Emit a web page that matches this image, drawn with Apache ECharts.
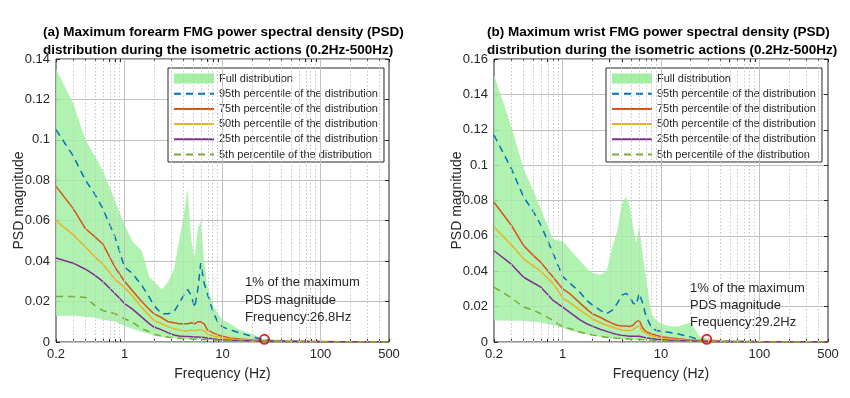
<!DOCTYPE html>
<html>
<head>
<meta charset="utf-8">
<script src="https://cdn.jsdelivr.net/npm/echarts@6/dist/echarts.min.js"></script>
<style>
html, body { margin: 0; padding: 0; background: #fff; }
#chart { width: 850px; height: 398px; }
</style>
</head>
<body>
<div id="chart"></div>
<script>
// frequency samples (Hz), shared by both panels
var freq = [0.2, 0.3, 0.4, 0.5, 0.6, 0.8, 1, 1.2, 1.5, 1.8, 2, 2.4, 2.8, 3.2, 3.6, 4, 4.4, 4.8, 5.2, 5.6, 6, 6.5, 7, 8, 9, 10, 12, 15, 20, 25, 30, 40, 60, 100, 200, 500];

// (a) forearm
var maxA = [0.135, 0.118, 0.100, 0.092, 0.085, 0.070, 0.058, 0.050, 0.045, 0.032, 0.030, 0.026, 0.030, 0.036, 0.050, 0.062, 0.076, 0.050, 0.042, 0.056, 0.060, 0.040, 0.028, 0.018, 0.014, 0.011, 0.009, 0.006, 0.004, 0.0018, 0.0014, 0.001, 0.0006, 0.0004, 0.0002, 0.0002];
var minA = [0.013, 0.013, 0.0125, 0.012, 0.011, 0.010, 0.008, 0.0065, 0.005, 0.004, 0.003, 0.0025, 0.002, 0.0018, 0.0016, 0.0015, 0.0014, 0.0013, 0.0012, 0.0012, 0.0011, 0.001, 0.001, 0.0009, 0.0008, 0.0007, 0.0005, 0.0004, 0.0003, 0.0002, 0.0001, 0.0001, 0.0001, 0.0001, 0, 0];
var p95A = [0.105, 0.092, 0.080, 0.073, 0.066, 0.052, 0.037, 0.034, 0.028, 0.022, 0.018, 0.014, 0.014, 0.015, 0.019, 0.023, 0.026, 0.023, 0.017, 0.026, 0.039, 0.029, 0.024, 0.015, 0.0095, 0.0075, 0.006, 0.0045, 0.0028, 0.0012, 0.0008, 0.0005, 0.0003, 0.0002, 0.0001, 0.0001];
var p75A = [0.077, 0.066, 0.056, 0.052, 0.0485, 0.037, 0.030, 0.0255, 0.020, 0.016, 0.014, 0.012, 0.010, 0.0095, 0.009, 0.009, 0.009, 0.0095, 0.009, 0.010, 0.010, 0.009, 0.006, 0.0045, 0.0035, 0.0028, 0.002, 0.0015, 0.001, 0.0007, 0.0005, 0.0004, 0.0003, 0.0002, 0.0001, 0.0001];
var p50A = [0.060, 0.053, 0.047, 0.042, 0.0386, 0.031, 0.027, 0.023, 0.017, 0.013, 0.0107, 0.009, 0.0075, 0.0066, 0.006, 0.0055, 0.0055, 0.006, 0.0055, 0.006, 0.006, 0.0055, 0.004, 0.003, 0.0025, 0.002, 0.0015, 0.0011, 0.0008, 0.0006, 0.0004, 0.0003, 0.0002, 0.0001, 0.0001, 0.0001];
var p25A = [0.0416, 0.039, 0.036, 0.033, 0.030, 0.024, 0.019, 0.0164, 0.0123, 0.009, 0.0074, 0.006, 0.0045, 0.0035, 0.003, 0.0028, 0.0027, 0.0026, 0.0025, 0.0025, 0.0024, 0.0022, 0.002, 0.0016, 0.0013, 0.0011, 0.0009, 0.0007, 0.0005, 0.0004, 0.0003, 0.0002, 0.0002, 0.0001, 0.0001, 0.0001];
var p5A = [0.0225, 0.0225, 0.022, 0.018, 0.0156, 0.014, 0.0115, 0.0099, 0.0066, 0.005, 0.0038, 0.003, 0.0024, 0.0021, 0.0019, 0.0017, 0.0016, 0.0015, 0.0014, 0.0014, 0.0013, 0.0012, 0.0011, 0.001, 0.0009, 0.0008, 0.0006, 0.0005, 0.0004, 0.0003, 0.0002, 0.0002, 0.0001, 0.0001, 0.0001, 0.0001];
var cutA = [26.8, 0.0013];

// (b) wrist
var maxB = [0.151, 0.122, 0.098, 0.086, 0.075, 0.058, 0.057, 0.052, 0.046, 0.041, 0.039, 0.038, 0.040, 0.054, 0.063, 0.078, 0.082, 0.077, 0.065, 0.056, 0.065, 0.050, 0.037, 0.016, 0.012, 0.0105, 0.009, 0.0088, 0.011, 0.003, 0.002, 0.0012, 0.0008, 0.0005, 0.0003, 0.0002];
var minB = [0.0122, 0.012, 0.012, 0.0115, 0.011, 0.0095, 0.008, 0.0065, 0.005, 0.0042, 0.0038, 0.003, 0.0025, 0.002, 0.0018, 0.0016, 0.0015, 0.0014, 0.0013, 0.0012, 0.0012, 0.0011, 0.001, 0.0009, 0.0008, 0.0007, 0.0005, 0.0004, 0.0003, 0.0002, 0.0001, 0.0001, 0.0001, 0.0001, 0, 0];
var p95B = [0.117, 0.098, 0.082, 0.074, 0.066, 0.050, 0.037, 0.033, 0.028, 0.023, 0.021, 0.018, 0.016, 0.018, 0.022, 0.0265, 0.0275, 0.026, 0.022, 0.021, 0.0275, 0.022, 0.015, 0.008, 0.0065, 0.006, 0.0055, 0.0045, 0.0028, 0.0012, 0.0006, 0.0004, 0.0003, 0.0002, 0.0001, 0.0001];
var p75B = [0.079, 0.066, 0.0545, 0.049, 0.045, 0.0366, 0.030, 0.027, 0.022, 0.018, 0.016, 0.014, 0.012, 0.0105, 0.0095, 0.009, 0.009, 0.0088, 0.0095, 0.0115, 0.0122, 0.008, 0.006, 0.0045, 0.0038, 0.003, 0.0024, 0.0018, 0.0012, 0.0008, 0.0005, 0.0004, 0.0003, 0.0002, 0.0001, 0.0001];
var p50B = [0.065, 0.055, 0.047, 0.043, 0.040, 0.033, 0.025, 0.022, 0.018, 0.015, 0.013, 0.011, 0.0095, 0.0085, 0.0075, 0.0068, 0.0065, 0.0065, 0.007, 0.0085, 0.009, 0.006, 0.005, 0.0035, 0.0028, 0.0022, 0.0017, 0.0013, 0.0009, 0.0006, 0.0004, 0.0003, 0.0002, 0.0001, 0.0001, 0.0001];
var p25B = [0.0516, 0.044, 0.0366, 0.0335, 0.031, 0.0235, 0.0197, 0.0165, 0.0125, 0.010, 0.009, 0.0072, 0.006, 0.005, 0.0043, 0.0038, 0.0035, 0.0033, 0.0032, 0.0033, 0.0033, 0.0028, 0.0024, 0.002, 0.0016, 0.0013, 0.001, 0.0008, 0.0006, 0.0004, 0.0003, 0.0002, 0.0002, 0.0001, 0.0001, 0.0001];
var p5B = [0.031, 0.025, 0.0197, 0.018, 0.016, 0.0122, 0.0085, 0.0075, 0.0057, 0.0046, 0.004, 0.0033, 0.0027, 0.0024, 0.0021, 0.0019, 0.0018, 0.0017, 0.0016, 0.0016, 0.0015, 0.0013, 0.0012, 0.001, 0.0009, 0.0008, 0.0006, 0.0005, 0.0004, 0.0003, 0.0002, 0.0002, 0.0001, 0.0001, 0.0001, 0.0001];
var cutB = [29.2, 0.0015];

var titleA = '(a) Maximum forearm FMG power spectral density (PSD)\ndistribution during the isometric actions (0.2Hz-500Hz)';
var titleB = '(b) Maximum wrist FMG power spectral density (PSD)\ndistribution during the isometric actions (0.2Hz-500Hz)';
var noteA = '1% of the maximum\nPDS magnitude\nFrequency:26.8Hz';
var noteB = '1% of the maximum\nPDS magnitude\nFrequency:29.2Hz';

var xTickFreq = [0.2, 1, 10, 100, 500];
var gridMajor = [1, 10, 100];
var gridMinor = [0.3, 0.4, 0.5, 0.6, 0.7, 0.8, 0.9, 2, 3, 4, 5, 6, 7, 8, 9, 20, 30, 40, 50, 60, 70, 80, 90, 200, 300, 400];
var legendNames = ['Full distribution', '95th percentile of the distribution', '75th percentile of the distribution',
	'50th percentile of the distribution', '25th percentile of the distribution', '5th percentile of the distribution'];

var FONT = '"Liberation Sans", Arial, sans-serif';
var TXT = '#262626';
var GREEN = '#a2f0a2';
var lg = Math.log10;

function pts(arr) {
	return freq.map(function (f, i) { return [lg(f), arr[i]]; });
}

function lineSeries(idx, name, arr, color, dashed) {
	return {
		type: 'line', name: name, xAxisIndex: idx, yAxisIndex: idx,
		data: pts(arr), symbol: 'none', z: 4,
		lineStyle: { color: color, width: 1.5, type: dashed ? [7, 5] : 'solid' },
		itemStyle: { color: color }
	};
}

function bandSeries(idx, hi, lo) {
	var upper = pts(hi), lower = pts(lo).reverse();
	return {
		type: 'custom', name: legendNames[0], xAxisIndex: idx, yAxisIndex: idx, z: 2,
		data: [[lg(0.2), 0]], silent: true, itemStyle: { color: GREEN },
		renderItem: function (params, api) {
			var poly = upper.concat(lower).map(function (p) { return api.coord(p); });
			return { type: 'polygon', shape: { points: poly }, style: { fill: GREEN, opacity: 0.85 } };
		}
	};
}

function panelSeries(idx, d) {
	var gridLines = [];
	gridMinor.forEach(function (f) {
		gridLines.push({ xAxis: lg(f), lineStyle: { type: [1.5, 2], color: '#c6c6c6', width: 1 } });
	});
	gridMajor.forEach(function (f) {
		gridLines.push({ xAxis: lg(f), lineStyle: { type: 'solid', color: '#c0c0c0', width: 1 } });
	});
	return [
		{	// vertical log grid
			type: 'line', xAxisIndex: idx, yAxisIndex: idx, data: [[lg(500), 0]],
			symbol: 'none', lineStyle: { opacity: 0 }, z: 1, silent: true,
			markLine: { silent: true, symbol: 'none', label: { show: false }, data: gridLines, animation: false }
		},
		bandSeries(idx, d.max, d.min),
		lineSeries(idx, legendNames[1], d.p95, '#0072BD', true),
		lineSeries(idx, legendNames[2], d.p75, '#D95319', false),
		lineSeries(idx, legendNames[3], d.p50, '#EDB120', false),
		lineSeries(idx, legendNames[4], d.p25, '#7E2F8E', false),
		lineSeries(idx, legendNames[5], d.p5, '#77AC30', true),
		{
			type: 'scatter', xAxisIndex: idx, yAxisIndex: idx, z: 6,
			data: [[lg(d.cut[0]), d.cut[1]]], symbol: 'circle', symbolSize: 9,
			itemStyle: { color: 'rgba(0,0,0,0)', borderColor: '#c00000', borderWidth: 2 }
		}
	];
}

var allTicks = xTickFreq.concat(gridMinor, gridMajor).map(lg);

function xAxis(idx) {
	return {
		type: 'value', gridIndex: idx, position: 'bottom', min: lg(0.2), max: lg(500),
		name: 'Frequency (Hz)', nameLocation: 'middle', nameGap: 25, nameMoveOverlap: false,
		nameTextStyle: { fontFamily: FONT, fontSize: 14, color: TXT },
		axisLine: { show: false, onZero: false },
		splitLine: { show: false },
		axisTick: { inside: true, length: 3, customValues: allTicks, lineStyle: { color: TXT } },
		axisLabel: {
			customValues: xTickFreq.map(lg), margin: 6,
			fontFamily: FONT, fontSize: 13, color: TXT,
			formatter: function (v) { return String(Number(Math.pow(10, v).toPrecision(3))); }
		}
	};
}

function xAxisTop(idx) {
	return {
		type: 'value', gridIndex: idx, position: 'top', min: lg(0.2), max: lg(500),
		axisLine: { show: false, onZero: false }, splitLine: { show: false }, axisLabel: { show: false },
		axisTick: { inside: true, length: 3, customValues: allTicks, lineStyle: { color: TXT } }
	};
}

function yAxis(idx, max) {
	return {
		type: 'value', gridIndex: idx, position: 'left', min: 0, max: max, interval: 0.02,
		name: 'PSD magnitude', nameLocation: 'middle', nameGap: 30, nameRotate: 90, nameMoveOverlap: false,
		nameTextStyle: { fontFamily: FONT, fontSize: 14, color: TXT },
		axisLine: { show: false, onZero: false },
		axisTick: { show: true, inside: true, length: 4, lineStyle: { color: TXT } },
		axisLabel: { margin: 6, fontFamily: FONT, fontSize: 13, color: TXT },
		splitLine: { lineStyle: { color: '#c0c0c0', width: 1 } }
	};
}

function yAxisRight(idx, max) {
	return {
		type: 'value', gridIndex: idx, position: 'right', min: 0, max: max, interval: 0.02,
		axisLine: { show: false, onZero: false }, splitLine: { show: false }, axisLabel: { show: false },
		axisTick: { show: true, inside: true, length: 4, lineStyle: { color: TXT } }
	};
}

function legend(left) {
	return {
		orient: 'vertical', left: left, top: 68,
		data: legendNames.map(function (n, i) {
			return i === 0 ? { name: n, icon: 'rect', itemStyle: { color: GREEN } } : { name: n, itemStyle: { opacity: 0 } };
		}),
		itemWidth: 40, itemHeight: 10, itemGap: 2.2,
		padding: [4, 6, 1, 5],
		backgroundColor: '#fff', borderColor: '#262626', borderWidth: 1, borderRadius: 0,
		textStyle: { fontFamily: FONT, fontSize: 11, color: TXT, lineHeight: 13 },
		selectedMode: false
	};
}

var chart = echarts.init(document.getElementById('chart'), null, { renderer: 'canvas' });
chart.setOption({
	animation: false,
	backgroundColor: '#fff',
	title: [
		{ text: titleA, left: 43, top: 23, padding: 0, textStyle: { fontFamily: FONT, fontSize: 13.5, fontWeight: 'bold', color: '#000', lineHeight: 18 } },
		{ text: titleB, left: 487, top: 23, padding: 0, textStyle: { fontFamily: FONT, fontSize: 13.5, fontWeight: 'bold', color: '#000', lineHeight: 18 } }
	],
	legend: [legend(168), legend(606)],
	grid: [
		{ left: 56, top: 59, width: 333, height: 283, show: true, borderColor: '#262626', borderWidth: 1, backgroundColor: '#fff' },
		{ left: 494, top: 59, width: 334, height: 283, show: true, borderColor: '#262626', borderWidth: 1, backgroundColor: '#fff' }
	],
	xAxis: [xAxis(0), xAxis(1), xAxisTop(0), xAxisTop(1)],
	yAxis: [yAxis(0, 0.14), yAxis(1, 0.16), yAxisRight(0, 0.14), yAxisRight(1, 0.16)],
	graphic: [
		{ type: 'text', left: 245, top: 274, z: 10, style: { text: noteA, fontFamily: FONT, fontSize: 13, fill: TXT, lineHeight: 17.5 } },
		{ type: 'text', left: 690, top: 280, z: 10, style: { text: noteB, fontFamily: FONT, fontSize: 13, fill: TXT, lineHeight: 17 } }
	],
	series: panelSeries(0, { min: minA, max: maxA, p95: p95A, p75: p75A, p50: p50A, p25: p25A, p5: p5A, cut: cutA })
		.concat(panelSeries(1, { min: minB, max: maxB, p95: p95B, p75: p75B, p50: p50B, p25: p25B, p5: p5B, cut: cutB }))
});
</script>
</body>
</html>
